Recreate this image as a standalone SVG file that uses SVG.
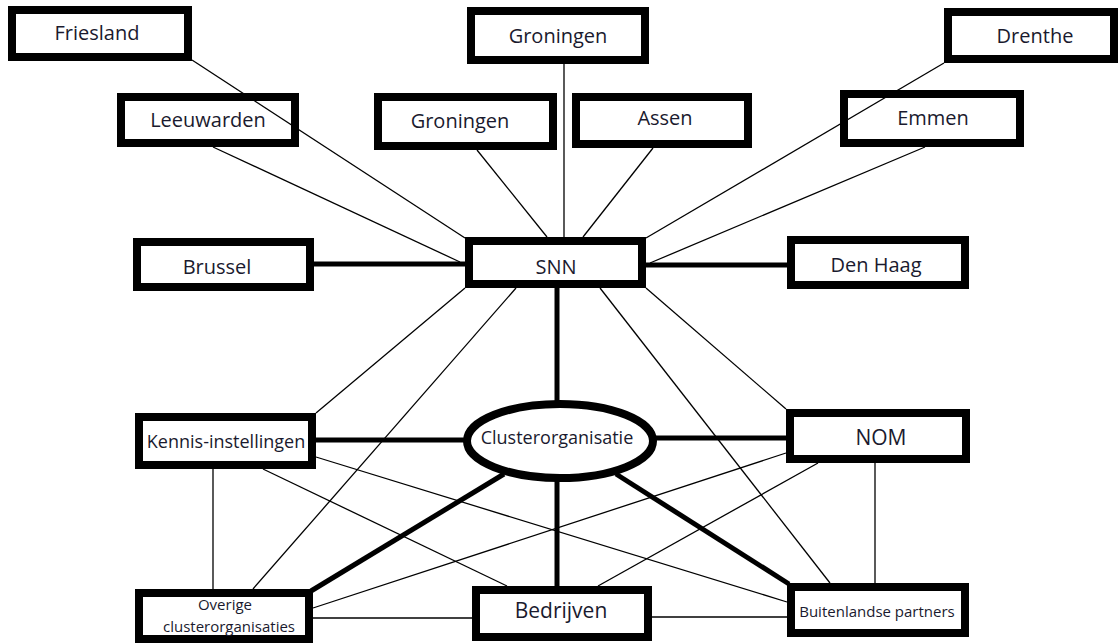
<svg xmlns="http://www.w3.org/2000/svg" width="1119" height="643" viewBox="0 0 1119 643">
<style>
.box{fill:#fff;stroke:#000;stroke-width:8}
.thin{stroke:#000;stroke-width:1.3;fill:none}
.thick{stroke:#000;stroke-width:5;fill:none}
text{font-family:"Open Sans","Liberation Sans",sans-serif;fill:#1a1a2e;text-anchor:middle}
.t20{font-size:20px}
.t21{font-size:21px}
.t18{font-size:18px}
.t15{font-size:15px}
</style>
<rect width="1119" height="643" fill="#fff"/>
<g id="friesland"><rect class="box" x="12" y="10" width="176" height="47"/><text class="t20" x="97" y="40">Friesland</text></g>
<g id="leeuwarden"><rect class="box" x="121" y="97" width="174" height="46"/><text class="t20" x="208" y="127">Leeuwarden</text></g>
<g id="groningen-prov"><rect class="box" x="471" y="11" width="174" height="49"/><text class="t20" x="558" y="43">Groningen</text></g>
<g id="groningen-stad"><rect class="box" x="378" y="97" width="175" height="49"/><text class="t20" x="460" y="128">Groningen</text></g>
<g id="assen"><rect class="box" x="576" y="97" width="172" height="47"/><text class="t20" x="665" y="125">Assen</text></g>
<g id="drenthe"><rect class="box" x="948" y="12" width="166" height="47"/><text class="t20" x="1035" y="43">Drenthe</text></g>
<g id="emmen"><rect class="box" x="844" y="94" width="176" height="49"/><text class="t20" x="933" y="125">Emmen</text></g>
<g id="brussel"><rect class="box" x="137" y="242" width="173" height="45"/><text class="t20" x="217" y="274">Brussel</text></g>
<g id="snn"><rect class="box" x="469" y="241" width="173" height="43"/><text class="t20" x="556" y="274">SNN</text></g>
<g id="den-haag"><rect class="box" x="791" y="240" width="174" height="45"/><text class="t20" x="876" y="272">Den Haag</text></g>
<g id="kennis"><rect class="box" x="139" y="417" width="173" height="48"/><text class="t18" x="226" y="448">Kennis-instellingen</text></g>
<g id="clusterorganisatie"><ellipse class="box" cx="560" cy="441" rx="93" ry="37"/><text class="t18" x="557" y="444">Clusterorganisatie</text></g>
<g id="nom"><rect class="box" x="790" y="413" width="176" height="46"/><text class="t21" x="881" y="445">NOM</text></g>
<g id="overige"><rect class="box" x="139" y="593" width="170" height="46"/><text class="t15" x="225" y="610">Overige</text><text class="t15" x="229" y="632">clusterorganisaties</text></g>
<g id="bedrijven"><rect class="box" x="476" y="590" width="172" height="47"/><text class="t21" x="561" y="618">Bedrijven</text></g>
<g id="buitenlandse"><rect class="box" x="791" y="587" width="174" height="46"/><text class="t15" x="877" y="617">Buitenlandse partners</text></g>
<g id="connectors">
<line class="thin" x1="192" y1="60" x2="465" y2="238"/>
<line class="thin" x1="213" y1="147" x2="460" y2="262"/>
<line class="thin" x1="477" y1="150" x2="547" y2="237"/>
<line class="thin" x1="564" y1="64" x2="564" y2="237"/>
<line class="thin" x1="653" y1="148" x2="583" y2="237"/>
<line class="thin" x1="944" y1="63" x2="646" y2="238"/>
<line class="thin" x1="925" y1="147" x2="650" y2="263"/>
<line class="thin" x1="465" y1="288" x2="316" y2="413"/>
<line class="thin" x1="516" y1="288" x2="253" y2="589"/>
<line class="thin" x1="600" y1="288" x2="830" y2="583"/>
<line class="thin" x1="646" y1="288" x2="786" y2="409"/>
<line class="thin" x1="213" y1="469" x2="213" y2="589"/>
<line class="thin" x1="316" y1="457" x2="787" y2="602"/>
<line class="thin" x1="263" y1="469" x2="507" y2="586"/>
<line class="thin" x1="313" y1="608" x2="786" y2="453"/>
<line class="thin" x1="313" y1="618" x2="472" y2="618"/>
<line class="thin" x1="598" y1="586" x2="818" y2="463"/>
<line class="thin" x1="652" y1="617" x2="787" y2="617"/>
<line class="thin" x1="875" y1="463" x2="875" y2="583"/>
<line class="thick" x1="314" y1="264" x2="465" y2="264"/>
<line class="thick" x1="646" y1="265" x2="787" y2="265"/>
<line class="thick" x1="557" y1="288" x2="557" y2="404"/>
<line class="thick" x1="316" y1="440" x2="465" y2="440"/>
<line class="thick" x1="655" y1="438" x2="786" y2="438"/>
<line class="thick" x1="311" y1="591" x2="504" y2="474"/>
<line class="thick" x1="557" y1="480" x2="557" y2="586"/>
<line class="thick" x1="616" y1="474" x2="789" y2="584"/>
</g>
</svg>
